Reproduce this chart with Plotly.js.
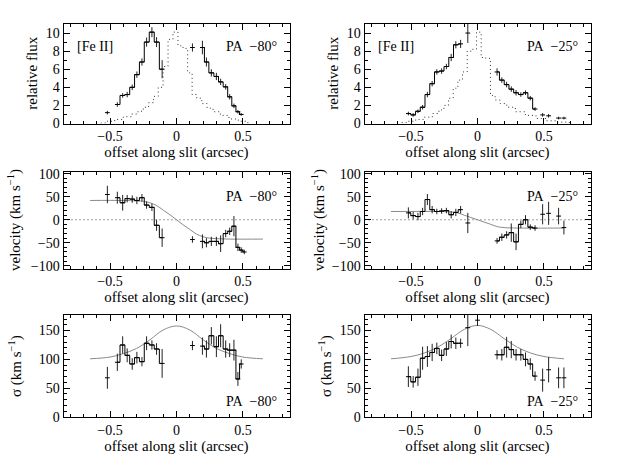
<!DOCTYPE html>
<html>
<head>
<meta charset="utf-8">
<script src="https://cdn.plot.ly/plotly-3.0.1.min.js"></script>
<style>html,body{margin:0;padding:0;background:#fff;}#plot{width:628px;height:469px;}</style>
</head>
<body>
<div id="plot"></div>
<script>
// ---------------- DATA ----------------
// PA -80 : [Fe II] flux
var fluxX80 = [-0.52, null, -0.445,-0.405,-0.371,-0.333,-0.298,-0.26,-0.225,-0.185,-0.15,-0.108, null, 0.12, null, 0.195,0.225,0.262,0.3,0.332,0.37,0.4,0.432,0.462,0.487];
var fluxY80 = [1.2, null, 2.1,3.1,3.2,4.0,5.4,6.8,9.0,10.1,9.0,6.0, null, 8.4, null, 8.4,6.8,5.6,5.2,4.6,4.05,2.95,1.95,1.3,1.0];
var fluxE80 = [0.2, null, 0.25,0.25,0.3,0.3,0.35,0.4,0.5,0.55,0.55,1.0, null, 0.45, null, 0.75,0.5,0.4,0.4,0.35,0.3,0.3,0.25,0.2,0.15];
var contX80 = [-0.57,-0.5,-0.43,-0.37,-0.31,-0.27,-0.23,-0.19,-0.155,-0.12,-0.082,-0.045,-0.008,0.03,0.068,0.1,0.135,0.17,0.21,0.25,0.3,0.36,0.43,0.5,0.55];
var contY80 = [0.05,0.25,0.45,0.75,1.05,1.35,1.8,2.3,3.0,4.0,6.3,9.3,10.1,8.6,8.3,5.6,3.2,2.8,2.2,1.7,1.3,0.9,0.5,0.25,0.1];
// PA -80 : velocity
var velX80 = [-0.52, null, -0.445,-0.405,-0.371,-0.333,-0.298,-0.26,-0.225,-0.185,-0.15,-0.108, null, 0.12, null, 0.195,0.225,0.262,0.3,0.332,0.37,0.4,0.432,0.462,0.487,0.51];
var velY80 = [55, null, 48,37,46,45,42,48,32,27,-12,-39, null, -43, null, -47,-50,-47,-47,-52,-30,-25,-14,-60,-66,-70];
var velE80 = [19, null, 13,17,8,8,8,8,8,8,12,20, null, 7, null, 15,10,10,10,18,8,8,22,8,6,5];
var velModX80 = [-0.65,-0.4,-0.3,-0.25,-0.2,-0.15,-0.1,-0.05,0,0.05,0.1,0.15,0.2,0.25,0.3,0.4,0.65];
var velModY80 = [42,42,41,40,37,31,21,11,0,-11,-21,-31,-37,-40,-41,-42,-42];
// PA -80 : dispersion
var sigX80 = [-0.52, null, -0.445,-0.405,-0.371,-0.333,-0.298,-0.26,-0.225,-0.185,-0.15,-0.108, null, 0.12, null, 0.195,0.225,0.262,0.3,0.332,0.37,0.4,0.432,0.462,0.487];
var sigY80 = [68, null, 95,125,107,92,103,96,128,125,118,93, null, 124, null, 123,118,141,122,141,118,116,116,66,92];
var sigE80 = [19, null, 15,15,12,10,10,8,12,8,10,25, null, 8, null, 15,15,15,18,20,15,12,18,12,8];
var sigModX80 = [-0.65,-0.5,-0.4,-0.3,-0.2,-0.1,0,0.1,0.2,0.3,0.4,0.5,0.65];
var sigModY80 = [101,104,110,119,134,151,158,151,134,119,110,104,101];

// PA -25 : [Fe II] flux
var fluxX25 = [-0.52,-0.484,-0.448,-0.413,-0.377,-0.341,-0.306,-0.27,-0.234,-0.198,-0.163,-0.127, null, -0.073, null, 0.147,0.183,0.219,0.254,0.29,0.326,0.361,0.397,0.433, null, 0.49, null, 0.535, null, 0.61, null, 0.65];
var fluxY25 = [1.1,0.95,1.35,1.8,3.2,4.4,5.7,5.8,6.3,7.3,8.7,8.8, null, 10.0, null, 5.7,4.8,4.3,3.8,3.4,3.2,3.4,2.8,1.6, null, 0.95, null, 0.85, null, 0.6, null, 0.6];
var fluxE25 = [0.2,0.2,0.2,0.25,0.3,0.3,0.3,0.3,0.3,0.4,0.4,0.45, null, 1.1, null, 0.4,0.3,0.3,0.3,0.3,0.25,0.25,0.25,0.2, null, 0.2, null, 0.2, null, 0.15, null, 0.15];
var contX25 = [-0.57,-0.5,-0.43,-0.37,-0.31,-0.27,-0.235,-0.2,-0.165,-0.13,-0.095,-0.06,-0.025,0.01,0.045,0.08,0.115,0.15,0.19,0.25,0.32,0.4,0.48,0.56,0.64,0.7];
var contY25 = [0.1,0.25,0.45,0.7,1.1,1.5,2.0,2.8,3.9,4.8,5.7,8.0,8.2,10.1,7.3,7.2,3.1,2.6,2.2,1.8,1.3,0.9,0.55,0.3,0.15,0.1];
// PA -25 : velocity
var velX25 = fluxX25;
var velY25 = [15,9,7,18,44,22,18,19,20,11,16,22, null, -7, null, -46,-38,-33,-28,-48,-10,0,-16,-18, null, 12, null, 14, null, 8, null, -17];
var velE25 = [12,8,8,8,12,8,6,6,6,8,8,8, null, 22, null, 6,8,8,20,18,8,10,6,6, null, 22, null, 25, null, 18, null, 15];
var velModX25 = [-0.65,-0.3,-0.2,-0.15,-0.1,-0.05,0,0.05,0.1,0.15,0.2,0.3,0.65];
var velModY25 = [18,18,17,15,10,5,0,-5,-10,-15,-17,-18,-18];
// PA -25 : dispersion
var sigX25 = [-0.52,-0.484,-0.448,-0.413,-0.377,-0.341,-0.306,-0.27,-0.234,-0.198,-0.163,-0.127, null, -0.073, null, 0.0, null, 0.147,0.183,0.219,0.254,0.29,0.326,0.361,0.397,0.433, null, 0.49, null, 0.535, null, 0.61, null, 0.65];
var sigY25 = [70,61,69,102,105,112,119,107,118,131,128,128, null, 155, null, 168, null, 108,108,121,117,108,108,100,92,71, null, 64, null, 82, null, 68, null, 68];
var sigE25 = [18,10,15,20,18,15,10,10,12,12,10,8, null, 32, null, 10, null, 8,10,18,15,10,10,12,10,8, null, 20, null, 22, null, 18, null, 18];
var sigModX25 = [-0.65,-0.5,-0.4,-0.3,-0.2,-0.1,0,0.1,0.2,0.3,0.4,0.5,0.65];
var sigModY25 = [101,105,111,121,136,152,159,152,136,121,111,105,101];

var xTickVals = [-0.5, 0, 0.5];
var xTickText = ['\u22120.5', '0', '0.5'];
var panelLabels = ['[Fe II]', 'PA\u2002\u221280\u00b0', 'PA\u2002\u221225\u00b0'];
var yTitles = ['relative flux', 'velocity (km s<sup>\u22121</sup>)', '\u03c3 (km s<sup>\u22121</sup>)'];
var xTitle = 'offset along slit (arcsec)';

// ---------------- BUILD ----------------
var HALF = 0.018;
function hist(x, y, e, ax) {
  return {x:x, y:y, xaxis:'x'+ax, yaxis:'y'+ax, type:'scatter', mode:'lines',
    line:{shape:'hvh', color:'black', width:1}, connectgaps:false, hoverinfo:'none',
    error_y:{type:'data', array:e, visible:true, width:0, thickness:1, color:'#222'},
    error_x:{type:'constant', value:HALF, visible:true, width:0, thickness:1, color:'black'}};
}
function dotted(x, y, ax) {
  return {x:x, y:y, xaxis:'x'+ax, yaxis:'y'+ax, type:'scatter', mode:'lines',
    line:{shape:'hvh', color:'#333', width:1, dash:'1px,3px'}, hoverinfo:'none'};
}
function model(x, y, ax) {
  return {x:x, y:y, xaxis:'x'+ax, yaxis:'y'+ax, type:'scatter', mode:'lines',
    line:{shape:'spline', color:'#8a8a8a', width:1}, hoverinfo:'none'};
}
var data = [
  dotted(contX80, contY80, 1), hist(fluxX80, fluxY80, fluxE80, 1),
  dotted(contX25, contY25, 2), hist(fluxX25, fluxY25, fluxE25, 2),
  model(velModX80, velModY80, 3), hist(velX80, velY80, velE80, 3),
  model(velModX25, velModY25, 4), hist(velX25, velY25, velE25, 4),
  model(sigModX80, sigModY80, 5), hist(sigX80, sigY80, sigE80, 5),
  model(sigModX25, sigModY25, 6), hist(sigX25, sigY25, sigE25, 6)
];

var FONT = 'Liberation Serif, Times New Roman, serif';
var W = 628, H = 469;
var colX = [[63.5, 289.5], [364.5, 590.5]];
var rowY = [[24, 123.5], [171.5, 268.5], [315, 417]];
var yTitleX = [[32, 333], [14, 318], [15, 325]];
function dx(c){ return [colX[c][0]/W, colX[c][1]/W]; }
function dy(r){ return [1 - rowY[r][1]/H, 1 - rowY[r][0]/H]; }

function xax(c, r) {
  return {domain:dx(c), anchor:'y'+(r*2+c+1), range:[-0.85, 0.85], tickvals:xTickVals, ticktext:xTickText,
    showline:true, linecolor:'black', linewidth:1, mirror:'allticks', ticks:'inside', ticklen:6,
    tickcolor:'black', showgrid:false, zeroline:false, tickfont:{size:14},
    minor:{ticks:'inside', ticklen:3, tickcolor:'black', dtick:0.1, tick0:0, showgrid:false},
    title:{text:xTitle, font:{size:15}, standoff:2}};
}
function yax(c, r, range, dtick, mdtick) {
  return {domain:dy(r), anchor:'x'+(r*2+c+1), range:range, dtick:dtick, tick0:0,
    showline:true, linecolor:'black', linewidth:1, mirror:'allticks', ticks:'inside', ticklen:6,
    tickcolor:'black', showgrid:false, zeroline:false, tickfont:{size:14},
    minor:{ticks:'inside', ticklen:3, tickcolor:'black', dtick:mdtick, tick0:0, showgrid:false}};
}
var layout = {width:W, height:H, margin:{l:0, r:0, t:0, b:0}, showlegend:false,
  paper_bgcolor:'white', plot_bgcolor:'white', font:{family:FONT, size:14, color:'black'},
  shapes:[], annotations:[]};
for (var c = 0; c < 2; c++) {
  layout['xaxis'+(c+1)] = xax(c, 0);
  layout['yaxis'+(c+1)] = yax(c, 0, [0, 11], 2, 1);
  layout['xaxis'+(c+3)] = xax(c, 1);
  layout['yaxis'+(c+3)] = yax(c, 1, [-106, 105], 50, 10);
  layout['xaxis'+(c+5)] = xax(c, 2);
  layout['yaxis'+(c+5)] = yax(c, 2, [0, 177], 50, 10);
  layout.shapes.push({type:'line', xref:'x'+(c+3)+' domain', yref:'y'+(c+3), x0:0, x1:1, y0:0, y1:0,
    line:{color:'#444', width:1, dash:'1px,3px'}, layer:'below'});
  for (var r = 0; r < 3; r++) {
    layout.annotations.push({xref:'paper', yref:'y'+(r*2+c+1)+' domain', x:yTitleX[r][c]/W, y:0.5,
      text:yTitles[r], textangle:-90, showarrow:false, xanchor:'center', yanchor:'middle',
      font:{size:15, family:FONT}});
  }
}
function ann(ax, x, y, text, xanchor) {
  return {xref:'x'+ax, yref:'y'+ax, x:x, y:y, text:text, showarrow:false, xanchor:xanchor,
    yanchor:'middle', font:{size:14, family:FONT}};
}
layout.annotations.push(ann(1, -0.76, 8.5, panelLabels[0], 'left'));
layout.annotations.push(ann(1, 0.77, 8.5, panelLabels[1], 'right'));
layout.annotations.push(ann(2, -0.76, 8.5, panelLabels[0], 'left'));
layout.annotations.push(ann(2, 0.77, 8.5, panelLabels[2], 'right'));
layout.annotations.push(ann(3, 0.77, 51, panelLabels[1], 'right'));
layout.annotations.push(ann(4, 0.77, 51, panelLabels[2], 'right'));
layout.annotations.push(ann(5, 0.77, 27, panelLabels[1], 'right'));
layout.annotations.push(ann(6, 0.77, 27, panelLabels[2], 'right'));

Plotly.newPlot('plot', data, layout, {staticPlot:true, displayModeBar:false});
</script>
</body>
</html>
